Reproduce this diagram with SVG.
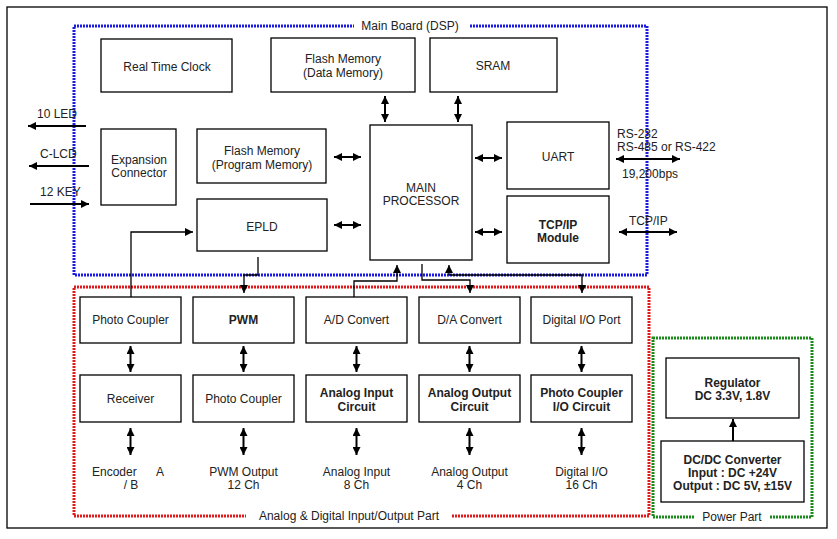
<svg xmlns="http://www.w3.org/2000/svg" width="837" height="539" viewBox="0 0 837 539">
<defs>
<marker id="ah" viewBox="0 0 10 10" refX="10" refY="5" markerWidth="9" markerHeight="8" markerUnits="userSpaceOnUse" orient="auto-start-reverse">
<path d="M0,0 L10,5 L0,10 z" fill="#000"/>
</marker>
</defs>
<style>
text{font-family:"Liberation Sans",Arial,sans-serif;font-size:12px;fill:#222;text-anchor:middle}
.b{font-weight:bold}
.st{text-anchor:start}
.box{fill:#fff;stroke:#000;stroke-width:1.3}
.frame{fill:none;stroke:#000;stroke-width:1.3}
.dot{fill:none;stroke-width:3;stroke-dasharray:2 1}
.arr{fill:none;stroke:#000;stroke-width:2;marker-end:url(#ah)}
.dbl{fill:none;stroke:#000;stroke-width:2;marker-start:url(#ah);marker-end:url(#ah)}
.wire{fill:none;stroke:#000;stroke-width:1.3}
.wa{fill:none;stroke:#000;stroke-width:1.3;marker-end:url(#ah)}
</style>
<rect width="837" height="539" fill="#fff"/>
<rect class="frame" x="7" y="7" width="820" height="521"/>

<g id="regions">
<rect class="dot" x="74" y="26" width="573" height="249" stroke="#1a1ae0"/>
<rect x="354" y="18" width="116" height="16" fill="#fff"/>
<text x="410" y="30">Main Board (DSP)</text>
<rect class="dot" x="74" y="287" width="575" height="229" stroke="#e01a1a"/>
<rect x="246" y="508" width="206" height="16" fill="#fff"/>
<text x="349" y="520">Analog &amp; Digital Input/Output Part</text>
<rect class="dot" x="653" y="338" width="159" height="179" stroke="#1a8a1a"/>
<rect x="694" y="509" width="76" height="16" fill="#fff"/>
<text x="732" y="521">Power Part</text>
</g>

<g id="connectors">
<line class="dbl" x1="385" y1="96" x2="385" y2="122"/>
<line class="dbl" x1="458" y1="96" x2="458" y2="122"/>
<line class="dbl" x1="334" y1="157" x2="361" y2="157"/>
<line class="dbl" x1="334" y1="225" x2="361" y2="225"/>
<line class="dbl" x1="475" y1="158" x2="502" y2="158"/>
<line class="dbl" x1="475" y1="232" x2="502" y2="232"/>
<line class="dbl" x1="616" y1="159" x2="680" y2="159"/>
<line class="dbl" x1="619" y1="232" x2="677" y2="232"/>
<line class="arr" x1="86" y1="126" x2="28" y2="126"/>
<line class="arr" x1="89" y1="166" x2="29" y2="166"/>
<line class="arr" x1="30" y1="204" x2="89" y2="204"/>
<polyline class="wa" points="131,297 131,232 193,232"/>
<polyline class="wa" points="258,257 258,275 244,275 244,293"/>
<polyline class="wa" points="354,297 354,281 397,281 397,265"/>
<polyline class="wa" points="422,264 422,280 470,280 470,293"/>
<line class="wa" x1="449" y1="275" x2="449" y2="265"/>
<polyline class="wa" points="449,275 582,275 582,293"/>
<line class="dbl" x1="130.5" y1="346" x2="130.5" y2="372"/>
<line class="dbl" x1="243.5" y1="346" x2="243.5" y2="372"/>
<line class="dbl" x1="356.5" y1="346" x2="356.5" y2="372"/>
<line class="dbl" x1="469.5" y1="346" x2="469.5" y2="372"/>
<line class="dbl" x1="581.5" y1="346" x2="581.5" y2="372"/>
<line class="dbl" x1="130.5" y1="428" x2="130.5" y2="455"/>
<line class="dbl" x1="243.5" y1="428" x2="243.5" y2="455"/>
<line class="dbl" x1="356.5" y1="428" x2="356.5" y2="455"/>
<line class="dbl" x1="469.5" y1="428" x2="469.5" y2="455"/>
<line class="dbl" x1="581.5" y1="428" x2="581.5" y2="455"/>
<line class="arr" x1="733" y1="441" x2="733" y2="419"/>
</g>

<g id="ext-labels">
<text class="st" x="37" y="118">10 LED</text>
<text class="st" x="40" y="158">C-LCD</text>
<text class="st" x="40" y="196">12 KEY</text>
<text class="st" x="617" y="138">RS-232</text>
<text class="st" x="617" y="151">RS-485 or RS-422</text>
<text class="st" x="622" y="178">19,200bps</text>
<text class="st" x="629" y="225">TCP/IP</text>
</g>

<g id="rtc"><rect class="box" x="101" y="39" width="131" height="53"/><text x="167" y="71">Real Time Clock</text></g>
<g id="flash-data"><rect class="box" x="271" y="38" width="144" height="54"/><text x="343" y="63">Flash Memory</text><text x="343" y="77">(Data Memory)</text></g>
<g id="sram"><rect class="box" x="430" y="38" width="127" height="54"/><text x="493" y="70">SRAM</text></g>
<g id="expansion"><rect class="box" x="101" y="129" width="75" height="76"/><text x="139" y="164">Expansion</text><text x="139" y="177">Connector</text></g>
<g id="flash-prog"><rect class="box" x="197" y="129" width="129" height="54"/><text x="262" y="155">Flash Memory</text><text x="262" y="169">(Program Memory)</text></g>
<g id="epld"><rect class="box" x="197" y="199" width="130" height="52"/><text x="262" y="231">EPLD</text></g>
<g id="processor"><rect class="box" x="370" y="125" width="102" height="135"/><text x="421" y="192">MAIN</text><text x="421" y="205">PROCESSOR</text></g>
<g id="uart"><rect class="box" x="507" y="122" width="102" height="67"/><text x="558" y="161">UART</text></g>
<g id="tcpip"><rect class="box" x="507" y="196" width="102" height="67"/><text class="b" x="558" y="229">TCP/IP</text><text class="b" x="558" y="242">Module</text></g>

<g id="photo1"><rect class="box" x="80" y="297" width="101" height="46"/><text x="130.5" y="324">Photo Coupler</text></g>
<g id="pwm"><rect class="box" x="193" y="297" width="101" height="46"/><text class="b" x="243.5" y="324">PWM</text></g>
<g id="adc"><rect class="box" x="306" y="297" width="101" height="46"/><text x="356.5" y="324">A/D Convert</text></g>
<g id="dac"><rect class="box" x="419" y="297" width="101" height="46"/><text x="469.5" y="324">D/A Convert</text></g>
<g id="dio-port"><rect class="box" x="531" y="297" width="101" height="46"/><text x="581.5" y="324">Digital I/O Port</text></g>

<g id="receiver"><rect class="box" x="80" y="375" width="101" height="47"/><text x="130.5" y="403">Receiver</text></g>
<g id="photo2"><rect class="box" x="193" y="375" width="101" height="47"/><text x="243.5" y="403">Photo Coupler</text></g>
<g id="ain"><rect class="box" x="306" y="375" width="101" height="47"/><text class="b" x="356.5" y="397">Analog Input</text><text class="b" x="356.5" y="411">Circuit</text></g>
<g id="aout"><rect class="box" x="419" y="375" width="101" height="47"/><text class="b" x="469.5" y="397">Analog Output</text><text class="b" x="469.5" y="411">Circuit</text></g>
<g id="pcio"><rect class="box" x="531" y="375" width="101" height="47"/><text class="b" x="581.5" y="397">Photo Coupler</text><text class="b" x="581.5" y="411">I/O Circuit</text></g>

<g id="io-labels">
<text class="st" x="92" y="476" xml:space="preserve">Encoder      A</text>
<text x="131" y="489">/ B</text>
<text x="243.5" y="476">PWM Output</text><text x="243.5" y="489">12 Ch</text>
<text x="356.5" y="476">Analog Input</text><text x="356.5" y="489">8 Ch</text>
<text x="469.5" y="476">Analog Output</text><text x="469.5" y="489">4 Ch</text>
<text x="581.5" y="476">Digital I/O</text><text x="581.5" y="489">16 Ch</text>
</g>

<g id="regulator"><rect class="box" x="666" y="358" width="133" height="60"/><text class="b" x="732.5" y="387">Regulator</text><text x="732.5" y="400" class="b">DC 3.3V, 1.8V</text></g>
<g id="dcdc"><rect class="box" x="661" y="441" width="143" height="61"/><text class="b" x="732.5" y="464">DC/DC Converter</text><text class="b" x="732.5" y="477">Input : DC +24V</text><text class="b" x="732.5" y="490">Output : DC 5V, ±15V</text></g>
</svg>
